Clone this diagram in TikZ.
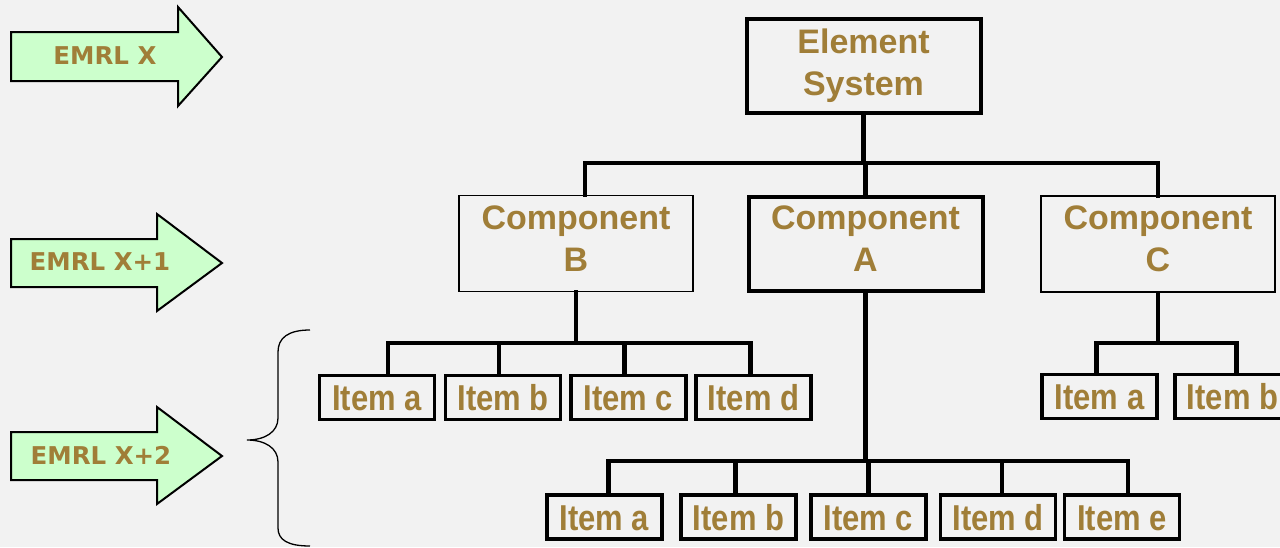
\documentclass[tikz,border=0pt]{standalone}
\usepackage{fontspec}
\setmainfont{Liberation Sans}
\newfontfamily\emrlfont{DejaVu Sans}
\newfontfamily\itemfont{Liberation Sans}[FakeStretch=0.86]
\definecolor{txt}{RGB}{160,126,56}
\definecolor{arrowfill}{RGB}{204,255,204}
\definecolor{bg}{RGB}{242,242,242}
\newcommand{\lowstrut}{\rule[-10pt]{0pt}{10pt}}
\tikzset{
  levelarrow/.style={fill=arrowfill,draw=black,line width=2pt,line join=miter},
  emrl/.style={text=txt,font=\emrlfont\bfseries\fontsize{24.5}{28}\selectfont,inner sep=0pt},
  bigbox/.style={draw=black,text=txt,align=center,font=\bfseries\fontsize{34}{42}\selectfont,minimum width=234pt,inner sep=0pt},
  thickbox/.style={bigbox,line width=4pt,minimum height=94pt},
  thinbox/.style={bigbox,line width=1.5pt,minimum height=96pt},
  itembox/.style={draw=black,line width=3.5pt,text=txt,font=\itemfont\bfseries\fontsize{36}{40}\selectfont,minimum width=115pt,minimum height=44pt,inner sep=0pt,text height=26pt,text depth=0pt},
  link/.style={draw=black,line width=4.5pt,line cap=rect},
  bracestyle/.style={draw=black,line width=1.3pt}
}
\begin{document}
\begin{tikzpicture}[x=1pt,y=-1pt]
\useasboundingbox (0,0) rectangle (1280,547);
\fill[bg] (0,0) rectangle (1280,547);
\clip (0,0) rectangle (1280,547);

% level arrows
\filldraw[levelarrow] (11,32) -- (178,32) -- (178,7) -- (222,57) -- (178,106) -- (178,81) -- (11,81) -- cycle;
\filldraw[levelarrow] (11,239) -- (157,239) -- (157,214) -- (222,263) -- (157,311) -- (157,287) -- (11,287) -- cycle;
\filldraw[levelarrow] (11,432) -- (157,432) -- (157,407) -- (222,456) -- (157,504) -- (157,480) -- (11,480) -- cycle;
\node[emrl] (e1) at (105,56) {EMRL X};
\node[emrl] (e2) at (100,262) {EMRL X+1};
\node[emrl] (e3) at (101,455) {EMRL X+2};

% brace
\draw[bracestyle] (310,330) .. controls (288,330) and (278,338) .. (278,352) -- (278,418)
  .. controls (278,432) and (265,440) .. (247,440)
  .. controls (265,440) and (278,448) .. (278,462) -- (278,528)
  .. controls (278,540) and (288,546) .. (310,546);

% boxes
\node[thickbox] (es) at (863.5,66) {Element\\System};
\node[thinbox] (cb) at (576,243.5) {Component\\B\lowstrut};
\node[thickbox] (ca) at (865.5,244) {Component\\A\lowstrut};
\node[thinbox] (cc) at (1158,244) {Component\\C\lowstrut};

\node[itembox] (ba) at (377,397.5) {Item a};
\node[itembox] (bb) at (503,397.5) {Item b};
\node[itembox] (bc) at (628.5,397.5) {Item c};
\node[itembox] (bd) at (753.5,397.5) {Item d};

\node[itembox] (cia) at (1099.5,396.5) {Item a};
\node[itembox] (cib) at (1232.5,396.5) {Item b};

\node[itembox] (aa) at (604.5,517) {Item a};
\node[itembox] (ab) at (738.5,517) {Item b};
\node[itembox] (ac) at (868.5,517) {Item c};
\node[itembox] (ad) at (998,517) {Item d};
\node[itembox] (ae) at (1122,517) {Item e};

% buses
\coordinate (bus0) at (864,163);
\coordinate (busb) at (577,343);
\coordinate (busc) at (1160,343);
\coordinate (busa) at (868,461);

\draw[link] (es.south) -- (es.south |- bus0);
\draw[link] ([xshift=9pt]cb.north) -- ([xshift=9pt]cb.north |- bus0) -- (cc.north |- bus0) -- (cc.north);
\draw[link] (ca.north) -- (ca.north |- bus0);

\draw[link] (cb.south) -- (cb.south |- busb);
\draw[link] ([xshift=11pt]ba.north) -- ([xshift=11pt]ba.north |- busb) -- ([xshift=-3pt]bd.north |- busb) -- ([xshift=-3pt]bd.north);
\draw[link] ([xshift=-4pt]bb.north) -- ([xshift=-4pt]bb.north |- busb);
\draw[link] ([xshift=-4pt]bc.north) -- ([xshift=-4pt]bc.north |- busb);

\draw[link] (cc.south) -- (cc.south |- busc);
\draw[link] ([xshift=-3pt]cia.north) -- ([xshift=-3pt]cia.north |- busc) -- ([xshift=4pt]cib.north |- busc) -- ([xshift=4pt]cib.north);

\draw[link] (ca.south) -- (ca.south |- busa);
\draw[link] ([xshift=4pt]aa.north) -- ([xshift=4pt]aa.north |- busa) -- ([xshift=6pt]ae.north |- busa) -- ([xshift=6pt]ae.north);
\draw[link] ([xshift=-3pt]ab.north) -- ([xshift=-3pt]ab.north |- busa);
\draw[link] (ac.north) -- (ac.north |- busa);
\draw[link] ([xshift=4pt]ad.north) -- ([xshift=4pt]ad.north |- busa);
\end{tikzpicture}
\end{document}
